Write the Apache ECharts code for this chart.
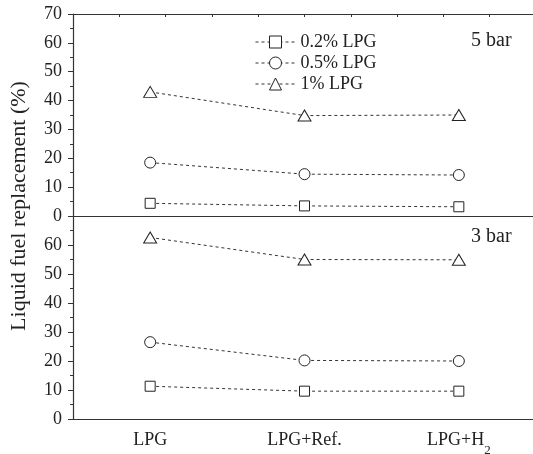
<!DOCTYPE html>
<html>
<head>
<meta charset="utf-8">
<script src="https://cdn.jsdelivr.net/npm/echarts@6/dist/echarts.min.js"></script>
<style>html,body{margin:0;padding:0;background:#fff;}#c{width:533px;height:454px;}</style>
</head>
<body>
<div id="c"></div>
<script>
const categories = ['LPG', 'LPG+Ref.', 'LPG+H2'];
const seriesNames = ['0.2% LPG', '0.5% LPG', '1% LPG'];
// 5 bar panel (top)
const bar5_02 = [4.4, 3.5, 3.2];
const bar5_05 = [18.5, 14.5, 14.2];
const bar5_1 = [43.0, 34.8, 35.0];
// 3 bar panel (bottom)
const bar3_02 = [11.3, 9.6, 9.6];
const bar3_05 = [26.5, 20.2, 20.0];
const bar3_1 = [62.6, 55.0, 54.9];
const yMin = 0, yMax = 70, yStep = 10;
const panelLabels = ['5 bar', '3 bar'];
const yTitle = 'Liquid fuel replacement (%)';

const FONT = 'Liberation Serif';
const AX = '#333';
const symbols = ['rect', 'circle', 'triangle'];
const sizes = [10, 11, [13, 11]];

function mkSeries(name, idx, data, grid) {
  return {
    name: name, type: 'line', data: data,
    xAxisIndex: grid, yAxisIndex: grid,
    symbol: symbols[idx], symbolSize: sizes[idx],
    itemStyle: {color: '#fff', borderColor: '#222', borderWidth: 1},
    lineStyle: {color: '#333', width: 1, type: [3, 3]},
    clip: false, z: 3
  };
}

function yAxis(grid, showMax) {
  return {
    type: 'value', gridIndex: grid, min: yMin, max: yMax, interval: yStep,
    axisLine: {show: true, lineStyle: {color: AX, width: 1.2}},
    axisTick: {show: true, inside: false, length: 5, lineStyle: {color: AX}},
    minorTick: {show: true, splitNumber: 2, length: 3, lineStyle: {color: AX}},
    splitLine: {show: false},
    axisLabel: {fontFamily: FONT, fontSize: 18, color: '#222', margin: 11, showMaxLabel: showMax}
  };
}

const chart = echarts.init(document.getElementById('c'));
chart.setOption({
  animation: false,
  textStyle: {fontFamily: FONT},
  grid: [
    {left: 73, width: 463, top: 14, height: 202, containLabel: false, outerBoundsMode: 'none'},
    {left: 73, width: 463, top: 216, height: 203, containLabel: false, outerBoundsMode: 'none'}
  ],
  xAxis: [
    {type: 'category', gridIndex: 0, data: categories, boundaryGap: true, position: 'bottom',
     axisLine: {lineStyle: {color: AX, width: 1.2}},
     axisTick: {alignWithLabel: true, length: 4, lineStyle: {color: AX}},
     axisLabel: {show: false}},
    {type: 'category', gridIndex: 1, data: categories, boundaryGap: true, position: 'bottom',
     axisLine: {lineStyle: {color: AX, width: 1.2}},
     axisTick: {alignWithLabel: true, length: 4, lineStyle: {color: AX}},
     axisLabel: {margin: 12, color: '#222',
       formatter: function (v) {
         if (v === 'LPG+H2') return '{a|LPG+H}{s|2}';
         return '{a|' + v + '}';
       },
       rich: {
         a: {fontFamily: FONT, fontSize: 18, color: '#222', lineHeight: 26, verticalAlign: 'top'},
         s: {fontFamily: FONT, fontSize: 13, color: '#222', lineHeight: 26, verticalAlign: 'bottom'}
       }}},
    {type: 'value', gridIndex: 0, position: 'top', min: 0, max: 10, interval: 1,
     axisLine: {show: true, lineStyle: {color: AX, width: 1.2}},
     axisTick: {show: true, inside: true, length: 3, lineStyle: {color: AX}},
     axisLabel: {show: false}, splitLine: {show: false}}
  ],
  yAxis: [yAxis(0, true), yAxis(1, false)],
  legend: {
    orient: 'vertical', left: 250, top: 28,
    itemWidth: 40, itemHeight: 15, itemGap: 3,
    data: seriesNames,
    itemStyle: {borderWidth: 1, color: '#fff', borderColor: '#222'},
    lineStyle: {width: 1, type: [3, 3], color: '#333'},
    textStyle: {fontFamily: FONT, fontSize: 18, color: '#222'}
  },
  series: [
    mkSeries(seriesNames[0], 0, bar5_02, 0),
    mkSeries(seriesNames[1], 1, bar5_05, 0),
    mkSeries(seriesNames[2], 2, bar5_1, 0),
    mkSeries(seriesNames[0], 0, bar3_02, 1),
    mkSeries(seriesNames[1], 1, bar3_05, 1),
    mkSeries(seriesNames[2], 2, bar3_1, 1)
  ],
  graphic: [
    {type: 'text', x: 471, y: 41, style: {text: panelLabels[0], font: '20px "Liberation Serif"', fill: '#222', align: 'left', verticalAlign: 'middle'}},
    {type: 'text', x: 471, y: 237, style: {text: panelLabels[1], font: '20px "Liberation Serif"', fill: '#222', align: 'left', verticalAlign: 'middle'}},
    {type: 'text', x: 19, y: 206, rotation: Math.PI / 2, style: {text: yTitle, font: '22px "Liberation Serif"', fill: '#222', align: 'center', verticalAlign: 'middle'}}
  ]
});
</script>
</body>
</html>
